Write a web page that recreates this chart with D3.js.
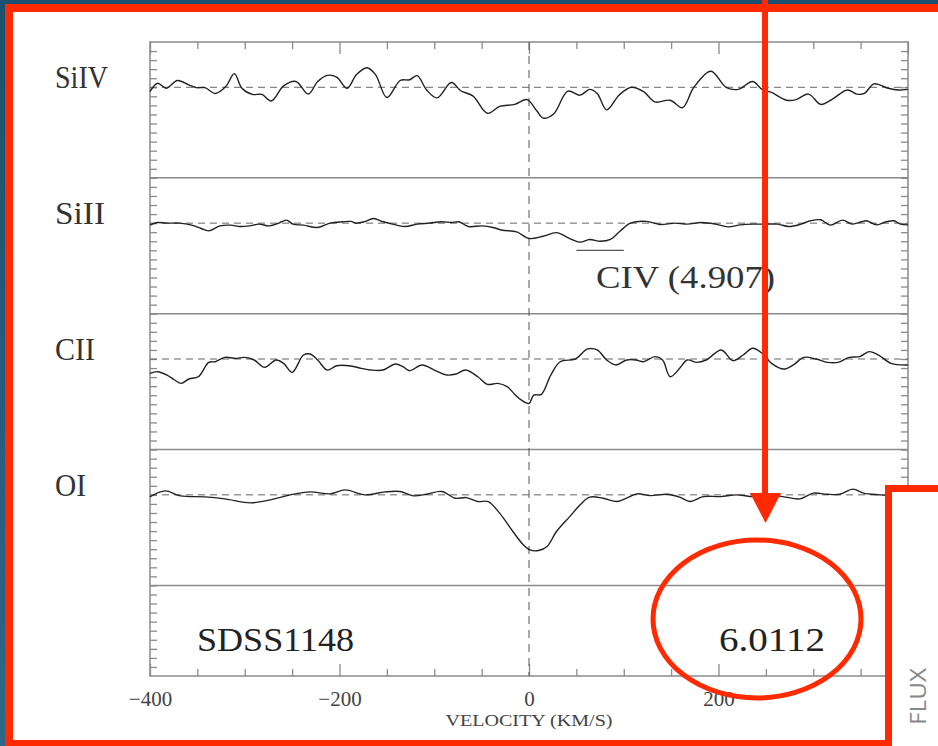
<!DOCTYPE html>
<html><head><meta charset="utf-8">
<script src="https://cdn.jsdelivr.net/npm/d3@7"></script>
<style>html,body{margin:0;padding:0;background:#1f5876;}svg{display:block;}</style>
</head><body>
<script>
// ---- data ----
const velSiIV = [-400,-392,-383,-371,-359,-351,-342,-331,-320,-311,-303,-292,-282,-272,-259,-246,-233,-223,-213,-203,-192,-182,-171,-162,-150,-136,-126,-118,-108,-97,-82,-72,-59,-44,-31,-15,-2,8,15,26,41,54,64,72,82,95,108,121,133,149,162,174,192,208,221,236,246,256,272,282,295,308,321,336,346,354,364,379,390,400];
const fluxSiIV = [0.951,1.045,0.989,1.075,1.026,0.996,0.996,0.932,1.008,1.151,0.989,0.921,0.921,0.849,1.015,1.064,0.925,1.064,1.132,1.113,0.989,1.140,1.215,1.140,0.887,1.075,1.083,1.128,0.970,0.883,1.053,0.962,0.902,0.713,0.789,0.811,0.864,0.743,0.660,0.706,0.958,0.913,0.977,0.932,0.751,0.913,1.000,0.951,0.838,0.857,0.774,1.000,1.177,1.000,0.977,1.064,0.977,0.943,0.857,0.864,0.925,0.811,0.875,0.970,0.925,0.932,1.038,0.989,0.970,0.977];

const velSiII = [-400,-392,-382,-369,-356,-346,-338,-326,-315,-305,-295,-285,-274,-264,-256,-249,-238,-223,-210,-197,-188,-182,-174,-164,-154,-144,-131,-118,-105,-92,-82,-74,-64,-49,-38,-28,-13,0,15,29,43,54,64,75,86,96,107,124,138,154,167,182,197,210,223,236,249,262,274,287,297,308,318,331,341,351,356,367,377,385,392,400];
const fluxSiII = [0.978,1.007,1.0,1.0,0.978,0.941,0.915,0.970,0.978,0.963,0.970,0.989,0.970,1.0,1.033,0.989,0.978,0.952,1.0,1.015,1.019,1.0,1.015,1.052,1.015,0.989,0.963,0.989,1.0,1.015,1.007,1.015,0.963,0.970,0.952,0.922,0.904,0.830,0.855,0.895,0.830,0.790,0.820,0.800,0.820,0.910,1.0,1.020,0.985,1.0,0.989,1.007,0.989,0.959,0.981,0.989,0.989,0.989,0.963,0.989,1.026,1.037,0.978,1.033,0.989,1.015,1.026,0.981,1.015,1.026,0.989,0.981];

const velCII = [-400,-392,-382,-374,-367,-359,-349,-338,-331,-321,-310,-300,-290,-279,-267,-259,-250,-238,-231,-223,-213,-203,-190,-177,-167,-154,-141,-133,-126,-113,-100,-87,-77,-67,-54,-44,-33,-23,-15,-8,0,5,13,23,33,49,62,72,82,92,103,113,121,133,141,149,159,167,177,187,203,215,226,236,246,256,269,279,290,303,315,326,338,349,359,369,382,400];
const fluxCII = [0.841,0.860,0.823,0.768,0.731,0.779,0.804,0.963,0.970,1.018,1.007,1.018,0.989,0.908,0.989,0.952,0.852,1.044,1.055,0.989,0.878,0.926,0.926,0.897,0.878,0.878,0.945,0.915,0.871,0.934,0.878,0.823,0.834,0.878,0.804,0.720,0.731,0.694,0.609,0.546,0.509,0.601,0.609,0.823,0.970,1.0,1.111,1.100,0.989,0.934,0.989,0.989,0.970,1.026,0.989,0.804,0.897,0.989,0.963,0.989,1.100,0.982,1.044,1.118,1.063,0.952,0.889,0.934,1.018,1.0,0.963,0.963,1.018,1.026,1.081,1.044,0.952,0.934];

const velOI = [-400,-384,-368,-342,-321,-294,-273,-252,-231,-210,-194,-173,-152,-136,-122,-108,-92,-78,-66,-54,-43,-31,-17,-6,1,10,19,29,43,54,64,78,93,103,114,128,146,159,170,184,202,219,237,252,268,286,300,314,328,342,353,370,385,400];
const fluxOI = [0.978,1.044,0.989,0.978,0.956,0.912,0.945,1.0,1.033,1.011,1.055,1.0,1.033,1.037,0.989,1.007,1.037,0.963,0.970,0.926,0.926,0.798,0.595,0.448,0.392,0.385,0.430,0.595,0.760,0.890,0.975,0.963,0.926,0.963,1.011,0.992,1.007,0.975,0.926,0.981,0.981,1.0,0.981,1.0,0.981,0.956,1.019,1.007,1.007,1.063,1.019,1.0,0.990,0.980];

const panelNames = ["SiIV","SiII","CII","OI"];
const panelOffsets = [5.5, 4.0, 2.5, 1.0];   // flux offset of each panel
const panelSeparators = [5.5, 4.0, 2.5, 1.0];
const xMajorTicks = [-400,-200,0,200,400];
const xMinorTicks = d3.range(-400, 401, 50);
const civRange = [50, 100];  // CIV underline velocity range
const civLevel = 0.70;       // flux level of underline in SiII panel
const objectName = "SDSS1148";
const redshift = "6.0112";
const civLabel = "CIV (4.907)";
const xLabel = "VELOCITY (KM/S)";

// ---- drawing ----
const W = 938, H = 746;
const svg = d3.select("body").append("svg").attr("width", W).attr("height", H);
const defs = svg.append("defs");
const grad = defs.append("linearGradient").attr("id","bg").attr("x1",0).attr("y1",0).attr("x2",0).attr("y2",1);
grad.append("stop").attr("offset","0%").attr("stop-color","#1a5170");
grad.append("stop").attr("offset","100%").attr("stop-color","#2c6888");
svg.append("rect").attr("width",W).attr("height",H).attr("fill","url(#bg)");
svg.append("rect").attr("x",9).attr("y",8).attr("width",W-9).attr("height",H-8).attr("fill","#fff");

const plot = {left:150, right:908, top:42, bottom:676};
const x = d3.scaleLinear().domain([-400,400]).range([plot.left, plot.right]);
const y = d3.scaleLinear().domain([0,7]).range([plot.bottom, plot.top]);
const AX = "#8a8a8a";
const g = svg.append("g");

// axes
const yTicks = d3.range(1, 70).map(d => d/10);
function styleAxis(sel){ sel.select(".domain").remove(); sel.selectAll("line").attr("stroke",AX).attr("stroke-width",1.3); }
g.append("g").attr("transform",`translate(${plot.left},0)`)
  .call(d3.axisLeft(y).tickValues(yTicks).tickSizeInner(-7).tickSizeOuter(0).tickFormat(""))
  .call(styleAxis);
g.append("g").attr("transform",`translate(${plot.right},0)`)
  .call(d3.axisRight(y).tickValues(yTicks).tickSizeInner(-7).tickSizeOuter(0).tickFormat(""))
  .call(styleAxis);
const minorOnly = xMinorTicks.filter(v => !xMajorTicks.includes(v));
g.append("g").attr("transform",`translate(0,${plot.bottom})`)
  .call(d3.axisBottom(x).tickValues(minorOnly).tickSizeInner(-7).tickSizeOuter(0).tickFormat(""))
  .call(styleAxis);
g.append("g").attr("transform",`translate(0,${plot.top})`)
  .call(d3.axisTop(x).tickValues(minorOnly).tickSizeInner(-7).tickSizeOuter(0).tickFormat(""))
  .call(styleAxis);
const bAx = g.append("g").attr("transform",`translate(0,${plot.bottom})`)
  .call(d3.axisBottom(x).tickValues(xMajorTicks).tickSizeInner(-12).tickSizeOuter(0).tickPadding(15))
  .call(styleAxis);
bAx.selectAll("text").attr("font-family","'Liberation Serif', serif").attr("font-size",21).attr("fill","#444");
g.append("g").attr("transform",`translate(0,${plot.top})`)
  .call(d3.axisTop(x).tickValues(xMajorTicks).tickSizeInner(-12).tickSizeOuter(0).tickFormat(""))
  .call(styleAxis);

// frame
g.append("rect").attr("x",plot.left).attr("y",plot.top).attr("width",plot.right-plot.left).attr("height",plot.bottom-plot.top)
  .attr("fill","none").attr("stroke",AX).attr("stroke-width",1.5);
g.selectAll(".sep").data(panelSeparators).join("line")
  .attr("x1",plot.left).attr("x2",plot.right).attr("y1",d=>y(d)).attr("y2",d=>y(d))
  .attr("stroke",AX).attr("stroke-width",1.5);

// continuum dashed lines
g.selectAll(".cont").data(panelOffsets).join("line")
  .attr("x1",plot.left).attr("x2",plot.right).attr("y1",d=>y(d+1)).attr("y2",d=>y(d+1))
  .attr("stroke","#666").attr("stroke-width",1).attr("stroke-dasharray","7,5");
// zero velocity line
g.append("line").attr("x1",x(0)).attr("x2",x(0)).attr("y1",plot.top).attr("y2",plot.bottom)
  .attr("stroke","#555").attr("stroke-width",1).attr("stroke-dasharray","8,6");

// spectra
const spectra = [[velSiIV,fluxSiIV],[velSiII,fluxSiII],[velCII,fluxCII],[velOI,fluxOI]];
spectra.forEach(([v,f],i) => {
  const pts = v.map((vv,j)=>[vv, f[j]+panelOffsets[i]]);
  const line = d3.line().x(d=>x(d[0])).y(d=>y(d[1])).curve(d3.curveCatmullRom.alpha(0.5));
  g.append("path").attr("d",line(pts)).attr("fill","none").attr("stroke","#222").attr("stroke-width",1.4);
});

// labels
const serif = "'Liberation Serif', 'DejaVu Serif', serif";
const lblW = [53, 50, 40, 31];
panelNames.forEach((n,i) => {
  g.append("text").attr("x",55).attr("y",y(panelOffsets[i]+1)+1).text(n)
    .attr("font-family",serif).attr("font-size",32).attr("fill","#333")
    .attr("textLength",lblW[i]).attr("lengthAdjust","spacingAndGlyphs");
});
g.append("line").attr("x1",x(civRange[0])).attr("x2",x(civRange[1]))
  .attr("y1",y(panelOffsets[1]+civLevel)).attr("y2",y(panelOffsets[1]+civLevel))
  .attr("stroke","#555").attr("stroke-width",1.3);
g.append("text").attr("x",596).attr("y",288).text(civLabel)
  .attr("font-family",serif).attr("font-size",32).attr("fill","#333")
  .attr("textLength",179).attr("lengthAdjust","spacingAndGlyphs");
g.append("text").attr("x",197).attr("y",651).text(objectName)
  .attr("font-family",serif).attr("font-size",33).attr("fill","#222")
  .attr("textLength",157).attr("lengthAdjust","spacingAndGlyphs");
g.append("text").attr("x",719).attr("y",651).text(redshift)
  .attr("font-family",serif).attr("font-size",33).attr("fill","#222")
  .attr("textLength",106).attr("lengthAdjust","spacingAndGlyphs");
g.append("text").attr("x",x(0)).attr("y",726).attr("text-anchor","middle").text(xLabel)
  .attr("font-family",serif).attr("font-size",17).attr("fill","#444")
  .attr("textLength",167).attr("lengthAdjust","spacingAndGlyphs");

// red annotation overlay
const RED = "#ff2a00";
const ov = svg.append("g");
ov.append("rect").attr("x",5).attr("y",4).attr("width",W-5).attr("height",8).attr("fill",RED);
ov.append("rect").attr("x",5).attr("y",4).attr("width",8).attr("height",H-4).attr("fill",RED);
ov.append("rect").attr("x",5).attr("y",740).attr("width",887).attr("height",6).attr("fill",RED);
ov.append("rect").attr("x",888.5).attr("y",488.5).attr("width",60).attr("height",270)
  .attr("fill","#fff").attr("stroke",RED).attr("stroke-width",7);
ov.append("text").attr("transform","translate(926,725) rotate(-90)").text("FLUX")
  .attr("font-family","'Open Sans', Lato, sans-serif").attr("font-size",22).attr("fill","#888")
  .attr("textLength",57).attr("lengthAdjust","spacingAndGlyphs");
ov.append("rect").attr("x",762).attr("y",0).attr("width",6).attr("height",495).attr("fill",RED);
ov.append("path").attr("d","M750,493 L781,493 L765.5,523 Z").attr("fill",RED);
ov.append("ellipse").attr("cx",757).attr("cy",619).attr("rx",104).attr("ry",79)
  .attr("fill","none").attr("stroke",RED).attr("stroke-width",5);
</script>
</body></html>
